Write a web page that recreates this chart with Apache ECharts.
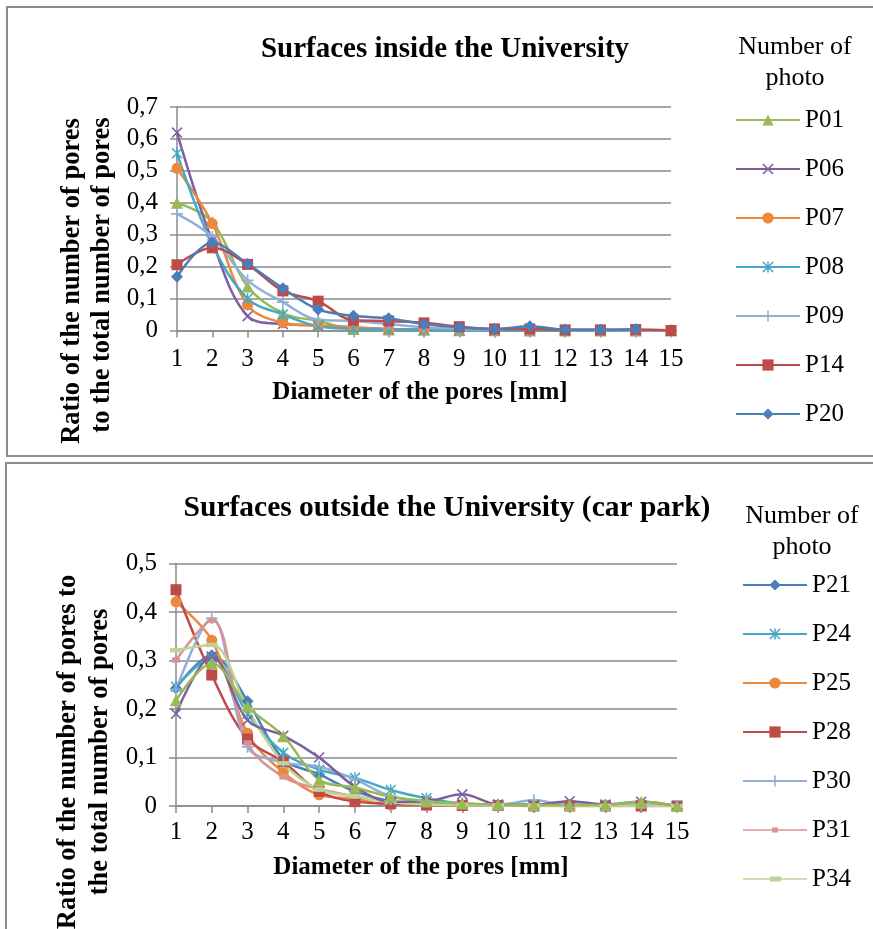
<!DOCTYPE html>
<html>
<head>
<meta charset="utf-8">
<script src="https://cdn.jsdelivr.net/npm/echarts@6/dist/echarts.min.js"></script>
<style>
html,body{margin:0;padding:0;background:#fff;}
#chart{width:873px;height:929px;}
</style>
</head>
<body>
<div id="chart"></div>
<script>
// ---------- DATA ----------
var diameters = ['1','2','3','4','5','6','7','8','9','10','11','12','13','14','15'];
var yTicksTop = [0, 0.7, 0.1];     // min, max, interval
var yTicksBottom = [0, 0.5, 0.1];

// Surfaces inside the University
var P01 = [0.40, 0.34, 0.138, 0.054, 0.03, 0.005, 0.003, 0.002, 0.001, 0.001, 0, 0, 0, 0, 0];
var P06 = [0.62, 0.28, 0.045, 0.02, 0.016, 0.01, 0.005, 0.002, 0.001, 0, 0, 0, 0, 0, 0];
var P07 = [0.508, 0.335, 0.08, 0.024, 0.015, 0.01, 0.003, 0.002, 0.001, 0, 0, 0, 0, 0, 0];
var P08 = [0.555, 0.27, 0.1, 0.05, 0.013, 0.005, 0.003, 0.002, 0.001, 0, 0, 0, 0, 0, 0];
var P09 = [0.365, 0.293, 0.157, 0.089, 0.034, 0.03, 0.02, 0.01, 0.005, 0.003, 0.012, 0.002, 0.001, 0.001, 0];
var P14 = [0.206, 0.259, 0.207, 0.124, 0.092, 0.032, 0.03, 0.024, 0.012, 0.005, 0.005, 0.002, 0.002, 0.003, 0];
var P20 = [0.168, 0.275, 0.209, 0.132, 0.066, 0.046, 0.038, 0.02, 0.01, 0.005, 0.013, 0.002, 0.002, 0.005, null];

// Surfaces outside the University (car park)
var P21 = [0.243, 0.311, 0.216, 0.097, 0.065, 0.03, 0.01, 0.005, 0.003, 0.002, 0.002, 0.002, 0.002, 0.002, 0];
var P24 = [0.246, 0.305, 0.19, 0.11, 0.075, 0.058, 0.033, 0.016, 0.005, 0.003, 0.003, 0.002, 0.002, 0.002, 0];
var P25 = [0.421, 0.342, 0.15, 0.069, 0.023, 0.015, 0.002, 0.002, 0.001, 0.001, 0, 0, 0, 0, 0];
var P28 = [0.446, 0.27, 0.138, 0.091, 0.03, 0.009, 0.005, 0.002, 0.001, 0.001, 0, 0, 0, 0, 0];
var P30 = [0.24, 0.387, 0.122, 0.09, 0.081, 0.055, 0.02, 0.01, 0.005, 0.003, 0.012, 0.002, 0.002, 0.002, 0];
var P31 = [0.301, 0.383, 0.13, 0.06, 0.035, 0.02, 0.008, 0.003, 0.002, 0.001, 0.001, 0, 0, 0, 0];
var P34 = [0.321, 0.332, 0.2, 0.088, 0.034, 0.02, 0.008, 0.003, 0.002, 0.001, 0.001, 0, 0, 0, 0];
// two further series drawn in the chart whose legend entries are cut off
var P35 = [0.19, 0.308, 0.177, 0.145, 0.1, 0.04, 0.009, 0.01, 0.024, 0.003, 0.002, 0.01, 0.003, 0.009, 0];
var P36 = [0.218, 0.294, 0.205, 0.144, 0.054, 0.038, 0.019, 0.01, 0.005, 0.003, 0.002, 0.002, 0.002, 0.009, 0];

var topNames = ['P01','P06','P07','P08','P09','P14','P20'];
var bottomNames = ['P21','P24','P25','P28','P30','P31','P34'];

// ---------- STYLE ----------
var FONT = "'Liberation Serif', 'Times New Roman', serif";
var C = {
  blue:'#4A7EBB', red:'#BE4B48', green:'#98B954', purple:'#7D5FA0', teal:'#46A9C4',
  orange:'#EB8A3E', lblue:'#94AFD6', pink:'#D89492', lgreen:'#BDD497'
};
var SYM_X = 'path://M0,1 L1,0 L5,4 L9,0 L10,1 L6,5 L10,9 L9,10 L5,6 L1,10 L0,9 L4,5 Z';
var SYM_STAR = 'path://M0,1 L1,0 L5,4 L9,0 L10,1 L6,5 L10,9 L9,10 L5,6 L1,10 L0,9 L4,5 Z M4.3,0 L5.7,0 L5.7,10 L4.3,10 Z';
var SYM_PLUS = 'path://M4.3,0 L5.7,0 L5.7,4.3 L10,4.3 L10,5.7 L5.7,5.7 L5.7,10 L4.3,10 L4.3,5.7 L0,5.7 L0,4.3 L4.3,4.3 Z';
var SYM_SDASH = 'path://M0,0 L6,0 L6,4 L0,4 Z';
var SYM_LDASH = 'path://M0,0 L11,0 L11,4 L0,4 Z';
// legend icons (line + dash marker) for the two dash-marker series
var ICON_SDASH = 'path://M0,1.8 L64,1.8 L64,3.2 L0,3.2 Z M29,0 L35,0 L35,5 L29,5 Z';
var ICON_LDASH = 'path://M0,1.8 L64,1.8 L64,3.2 L0,3.2 Z M27,0 L38,0 L38,5 L27,5 Z';

function mk(name, data, color, symbol, size, gi) {
  return {
    name: name, type: 'line', data: data, smooth: 0.35,
    xAxisIndex: gi, yAxisIndex: gi,
    symbol: symbol, symbolSize: size, showSymbol: true, symbolKeepAspect: true,
    lineStyle: {color: color, width: 2.5},
    itemStyle: {color: color},
    connectNulls: false, animation: false
  };
}

var series = [
  mk('P01', P01, C.green, 'triangle', 12, 0),
  mk('P06', P06, C.purple, SYM_X, 11, 0),
  mk('P07', P07, C.orange, 'circle', 11, 0),
  mk('P08', P08, C.teal, SYM_STAR, 11, 0),
  mk('P09', P09, C.lblue, SYM_PLUS, 12, 0),
  mk('P14', P14, C.red, 'rect', 11, 0),
  mk('P20', P20, C.blue, 'diamond', 12, 0),

  mk('P21', P21, C.blue, 'diamond', 12, 1),
  mk('P24', P24, C.teal, SYM_STAR, 11, 1),
  mk('P25', P25, C.orange, 'circle', 11, 1),
  mk('P28', P28, C.red, 'rect', 11, 1),
  mk('P30', P30, C.lblue, SYM_PLUS, 12, 1),
  mk('P31', P31, C.pink, SYM_SDASH, 8, 1),
  mk('P34', P34, C.lgreen, SYM_LDASH, 12, 1),
  mk('P35', P35, C.purple, SYM_X, 11, 1),
  mk('P36', P36, C.green, 'triangle', 12, 1)
];

var GRID_COLOR = '#8a8a8a';
function xAx(gi, margin) {
  return {
    type: 'category', gridIndex: gi, data: diameters, boundaryGap: false,
    axisLine: {show: true, lineStyle: {color: GRID_COLOR, width: 1.5}},
    axisTick: {show: true, length: 7, lineStyle: {color: GRID_COLOR, width: 1.5}},
    axisLabel: {color: '#000', fontFamily: FONT, fontSize: 25, margin: margin},
    splitLine: {show: false}
  };
}
function yAx(gi, t) {
  return {
    type: 'value', gridIndex: gi, min: t[0], max: t[1], interval: t[2],
    axisLine: {show: true, lineStyle: {color: GRID_COLOR, width: 1.5}},
    axisTick: {show: true, length: 7, lineStyle: {color: GRID_COLOR, width: 1.5}},
    axisLabel: {color: '#000', fontFamily: FONT, fontSize: 25, margin: 19,
      formatter: function (v) { return String(+(+v).toFixed(1)).replace('.', ','); }},
    splitLine: {show: true, lineStyle: {color: GRID_COLOR, width: 1.5}}
  };
}

function legend(items, left, top) {
  return {
    data: items, orient: 'vertical', left: left, top: top,
    itemWidth: 64, itemHeight: 14, itemGap: 23, symbolKeepAspect: true,
    textStyle: {fontFamily: FONT, fontSize: 25, color: '#000', lineHeight: 26},
    selectedMode: false
  };
}
var bottomLegendItems = bottomNames.map(function (n) {
  if (n === 'P31') return {name: n, icon: ICON_SDASH};
  if (n === 'P34') return {name: n, icon: ICON_LDASH};
  return n;
});

function txt(x, y, s, size, bold, rot) {
  return {
    type: 'text', x: x, y: y, rotation: rot || 0, silent: true,
    style: {text: s, font: (bold ? 'bold ' : '') + size + 'px ' + FONT,
      fill: '#000', textAlign: 'center', textVerticalAlign: 'middle'}
  };
}

var option = {
  backgroundColor: '#fff',
  animation: false,
  grid: [
    {left: 177, right: 202, top: 107, height: 223.5, containLabel: false},
    {left: 176, right: 196, top: 563.5, height: 242.5, containLabel: false}
  ],
  xAxis: [xAx(0, 16), xAx(1, 14)],
  yAxis: [yAx(0, yTicksTop), yAx(1, yTicksBottom)],
  legend: [legend(topNames, 730, 102), legend(bottomLegendItems, 737, 567)],
  graphic: [
    {type: 'rect', shape: {x: 7, y: 7, width: 900, height: 449}, style: {fill: 'none', stroke: '#8c8c8c', lineWidth: 2}, silent: true},
    {type: 'rect', shape: {x: 6, y: 463, width: 900, height: 500}, style: {fill: 'none', stroke: '#8c8c8c', lineWidth: 2}, silent: true},
    txt(445, 50, 'Surfaces inside the University', 29, true),
    txt(447, 508, 'Surfaces outside the University (car park)', 29.5, true),
    txt(795, 47, 'Number of', 26, false),
    txt(795, 78, 'photo', 26, false),
    txt(802, 516, 'Number of', 26, false),
    txt(802, 547, 'photo', 26, false),
    txt(420, 393, 'Diameter of the pores [mm]', 25, true),
    txt(421, 868, 'Diameter of the pores [mm]', 25, true),
    txt(72, 281, 'Ratio of the number of pores', 26.5, true, Math.PI / 2),
    txt(102, 275, 'to the total number of pores', 26.5, true, Math.PI / 2),
    txt(68, 752, 'Ratio of the number of pores to', 26.5, true, Math.PI / 2),
    txt(100, 752, 'the total number of pores', 26.5, true, Math.PI / 2)
  ],
  series: series
};

var chart = echarts.init(document.getElementById('chart'), null, {renderer: 'canvas'});
chart.setOption(option);
</script>
</body>
</html>
